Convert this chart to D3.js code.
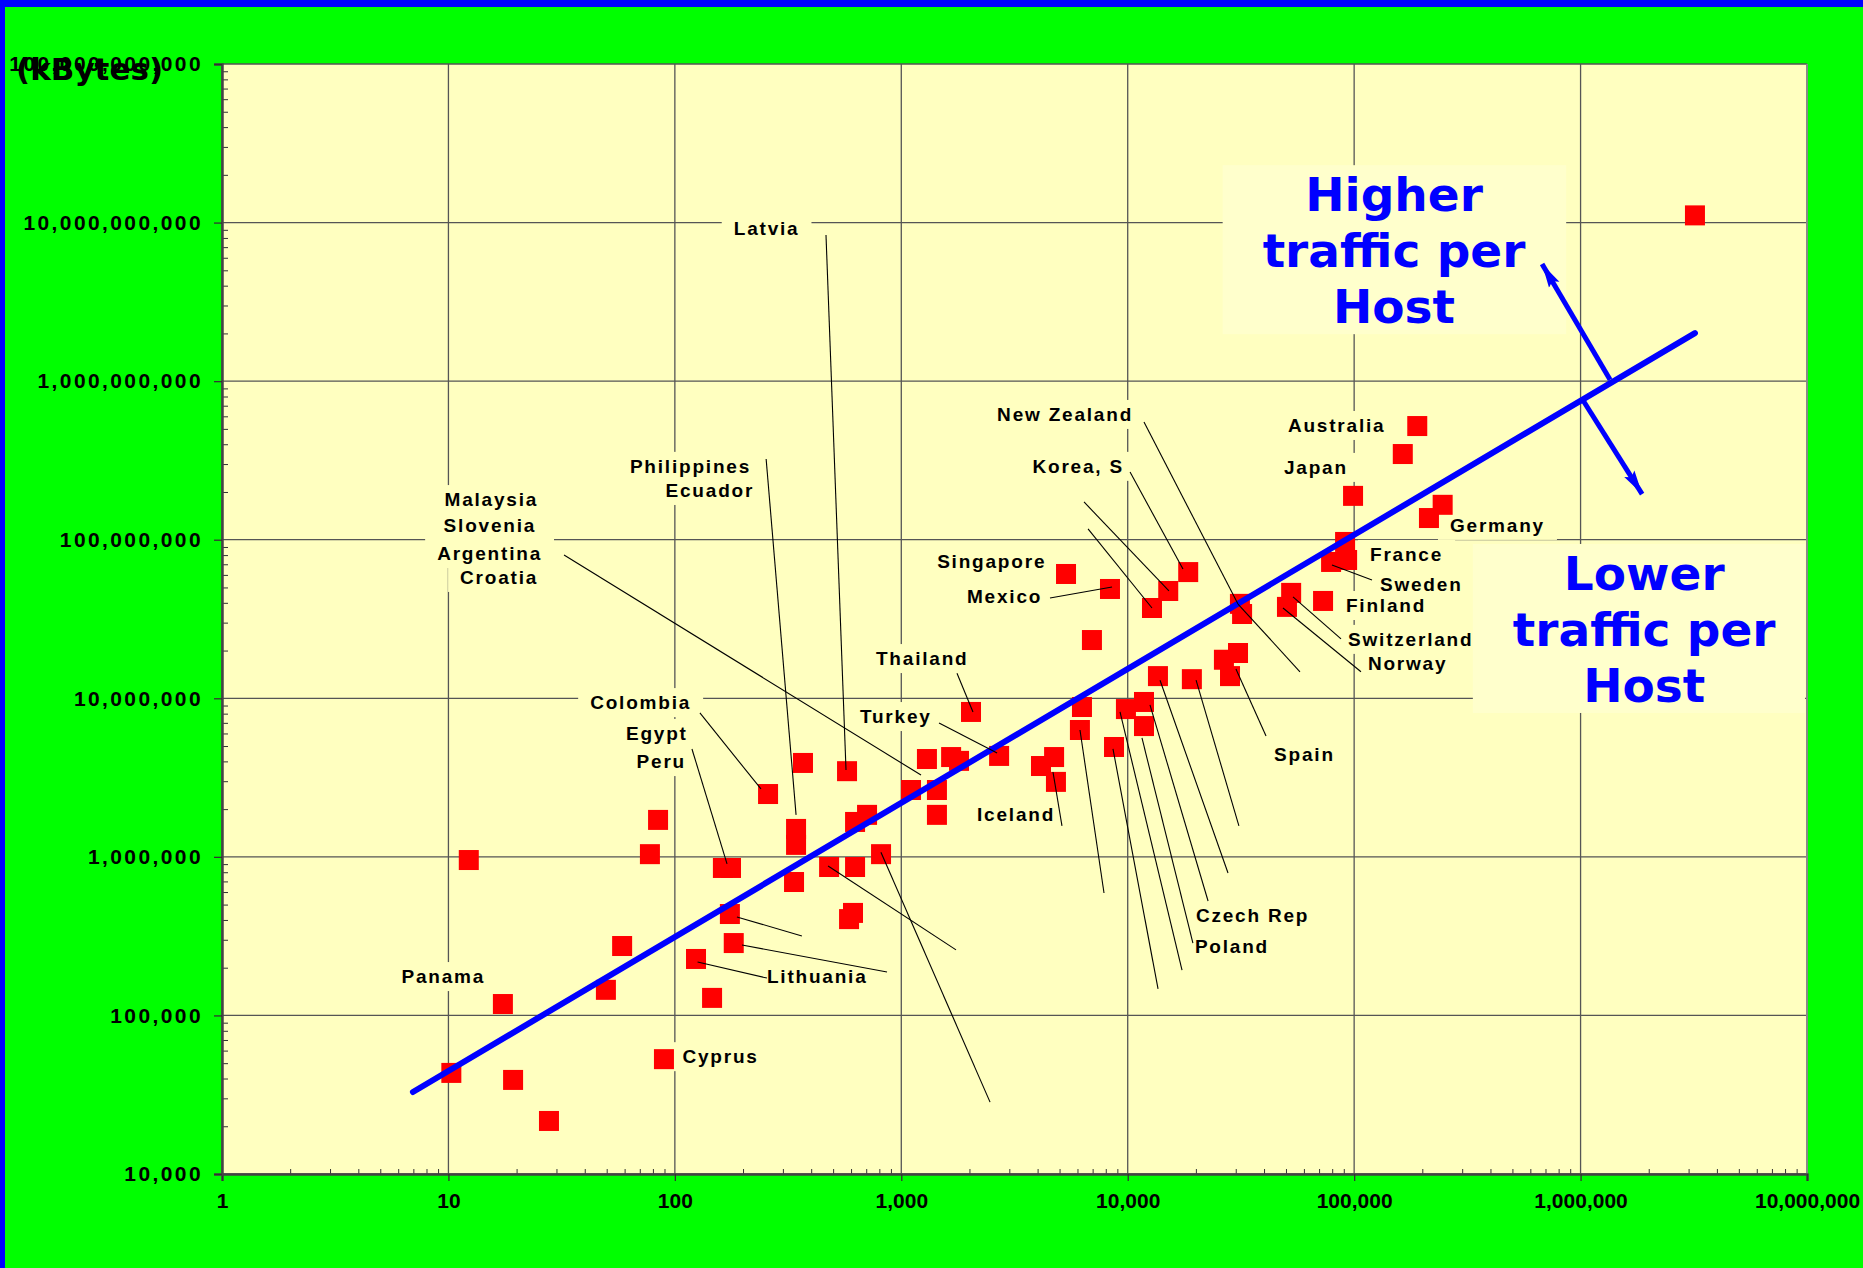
<!DOCTYPE html>
<html>
<head>
  <meta charset="utf-8">
  <title>Traffic per Host</title>
  <script src="https://d3js.org/d3.v7.min.js"></script>
  <style>
    body { margin: 0; background: #00ff00; }
    text { font-family: "Liberation Sans", Arial, sans-serif; font-weight: bold; }
  </style>
</head>
<body>
<script>
  // internet hosts per country (x) and traffic in kBytes (y)
  var hosts = [12.3, 17.4, 10.3, 19.3, 27.8, 49.6, 58.5, 77.6, 84.3, 89.5, 124, 146, 163, 177, 182, 175,
    258, 343, 343, 336, 368, 480, 576, 612, 588, 625, 706, 625, 814, 1104, 1298, 1437, 1437, 1660, 1799,
    2032, 2704, 4140, 4730, 4820, 5340, 6150, 6280, 6950, 8350, 8700, 9820, 11800, 11800, 12800, 15100,
    13600, 18500, 19200, 26600, 30700, 28300, 31300, 32000, 50500, 52700, 72900, 79100, 93100, 91200,
    98900, 164000, 190000, 214000, 246000, 3200000];
  var traffic = [955e3, 118e3, 43.4e3, 39.2e3, 21.6e3, 145e3, 274e3, 1.04e6, 1.71e6, 53e3, 227e3, 129e3,
    851e3, 851e3, 286e3, 436e3, 2.49e6, 1.50e6, 1.19e6, 694e3, 3.91e6, 863e3, 3.47e6, 443e3, 405e3, 1.66e6,
    1.84e6, 863e3, 1.04e6, 2.64e6, 4.14e6, 2.64e6, 1.84e6, 4.26e6, 4.03e6, 8.2e6, 4.33e6, 3.74e6, 4.26e6,
    2.97e6, 60.8e6, 6.31e6, 8.81e6, 23.3e6, 48.9e6, 4.93e6, 8.55e6, 9.48e6, 6.68e6, 37.1e6, 47.5e6, 13.8e6,
    62.5e6, 13.2e6, 17.5e6, 19.3e6, 13.8e6, 39.4e6, 34.0e6, 37.7e6, 46.2e6, 41.1e6, 72.4e6, 74.5e6, 96.8e6,
    189e6, 347e6, 521e6, 137e6, 166e6, 11.1e9];

  // trend line ends
  var fitX = [6.97, 3.2e6];
  var fitY = [3.29e4, 2.01e9];

  var xTicks = [1, 10, 100, 1e3, 1e4, 1e5, 1e6, 1e7];
  var yTicks = [1e4, 1e5, 1e6, 1e7, 1e8, 1e9, 1e10, 1e11];

  // country labels: text, hosts, kBytes (baseline), anchor
  var countryLabels = [
    ["Philippines", 217, 2.64e8, "end"], ["Ecuador", 224, 1.86e8, "end"],
    ["Malaysia", 24.9, 1.63e8, "end"], ["Slovenia", 24.4, 1.12e8, "end"],
    ["Argentina", 25.9, 7.45e7, "end"], ["Croatia", 24.9, 5.26e7, "end"],
    ["Colombia", 118, 8.55e6, "end"], ["Egypt", 114, 5.46e6, "end"], ["Peru", 112, 3.63e6, "end"],
    ["Latvia", 182, 8.35e9, "start"], ["Panama", 6.2, 1.6e5, "start"],
    ["Lithuania", 255, 1.6e5, "start"], ["Cyprus", 108, 5.0e4, "start"],
    ["Singapore", 1440, 6.64e7, "start"], ["Mexico", 1950, 3.99e7, "start"],
    ["Thailand", 773, 1.62e7, "start"], ["Turkey", 657, 6.98e6, "start"],
    ["Iceland", 2160, 1.68e6, "start"], ["New Zealand", 2650, 5.61e8, "start"],
    ["Korea, S", 9630, 2.64e8, "end"], ["Australia", 51000, 4.78e8, "start"],
    ["Japan", 49000, 2.60e8, "start"], ["Germany", 265000, 1.12e8, "start"],
    ["France", 117500, 7.35e7, "start"], ["Sweden", 130000, 4.75e7, "start"],
    ["Finland", 92000, 3.50e7, "start"], ["Switzerland", 94000, 2.14e7, "start"],
    ["Norway", 115000, 1.51e7, "start"], ["Spain", 44300, 4.03e6, "start"],
    ["Czech Rep", 20000, 3.88e5, "start"], ["Poland", 19800, 2.48e5, "start"]
  ];

  // leader lines: x1, y1, x2, y2
  var leaders = [
    [32.4, 8.01e7, 1222, 3.28e6], [253, 3.23e8, 343, 1.84e6], [465, 8.35e9, 570, 3.53e6],
    [129, 8.08e6, 240, 2.68e6], [119, 4.79e6, 170, 9.02e5], [255, 1.72e5, 126, 2.17e5],
    [865, 1.88e5, 198, 2.78e5], [364, 3.17e5, 188, 4.18e5], [475, 8.75e5, 1745, 2.59e5],
    [813, 1.07e6, 2466, 2.84e4], [4537, 4.29e7, 8527, 5.03e7], [1762, 1.44e7, 2073, 8.20e6],
    [1468, 6.98e6, 2649, 4.52e6], [5125, 1.57e6, 4677, 3.43e6], [6155, 6.31e6, 7858, 5.92e5],
    [8610, 4.79e6, 13610, 1.47e5], [9248, 8.20e6, 17370, 1.93e5], [11560, 5.62e6, 19410, 2.86e5],
    [12540, 9.08e6, 22640, 5.27e5], [13890, 1.30e7, 27730, 7.91e5], [20040, 1.30e7, 30980, 1.57e6],
    [30060, 1.53e7, 40820, 5.78e6], [11800, 5.52e8, 30690, 3.93e7], [30690, 3.93e7, 57650, 1.47e7],
    [10240, 2.67e8, 17540, 6.53e7], [6412, 1.73e8, 15210, 4.75e7], [6680, 1.17e8, 12800, 3.71e7],
    [119900, 5.57e7, 79800, 6.93e7], [87500, 2.37e7, 53700, 4.36e7], [107200, 1.47e7, 48500, 3.71e7]
  ];

  // big notes and their arrows
  var noteLines = [["Higher", "traffic per", "Host"], ["Lower", "traffic per", "Host"]];
  var noteX = [150000, 1.91e6];
  var noteY = [1.18e10, 4.82e7];
  var arrows = [[1.35e6, 1.02e9, 6.76e5, 5.48e9], [1.01e6, 7.83e8, 1.87e6, 1.94e8]];

  var width = 1863;
  var height = 1268;
  var plot = { left: 222, right: 1807, top: 64, bottom: 1174 };

  var svg = d3.select("body").append("svg").attr("width", width).attr("height", height);

  svg.append("rect").attr("width", width).attr("height", height).attr("fill", "#00ff00");
  svg.append("rect").attr("width", width).attr("height", 7).attr("fill", "#0000ff");
  svg.append("rect").attr("width", 5).attr("height", height).attr("fill", "#0000ff");

  var xScale = d3.scaleLog().domain([1, 1e7]).range([plot.left, plot.right]);
  var yScale = d3.scaleLog().domain([1e4, 1e11]).range([plot.bottom, plot.top]);

  svg.append("rect")
    .attr("x", plot.left).attr("y", plot.top)
    .attr("width", plot.right - plot.left).attr("height", plot.bottom - plot.top)
    .attr("fill", "#ffffc0");

  // grid
  var grid = svg.append("g").attr("stroke", "#555").attr("stroke-width", 1.3);
  grid.selectAll(".gx").data(xTicks).enter().append("line")
    .attr("x1", function(d) { return xScale(d); }).attr("x2", function(d) { return xScale(d); })
    .attr("y1", plot.top).attr("y2", plot.bottom);
  grid.selectAll(".gy").data(yTicks).enter().append("line")
    .attr("y1", function(d) { return yScale(d); }).attr("y2", function(d) { return yScale(d); })
    .attr("x1", plot.left).attr("x2", plot.right);

  var bgLayer = svg.append("g");

  // points
  svg.append("g").selectAll("rect").data(hosts).enter().append("rect")
    .attr("x", function(d) { return xScale(d) - 10; })
    .attr("y", function(d, i) { return yScale(traffic[i]) - 10; })
    .attr("width", 20).attr("height", 20)
    .attr("fill", "#ff0000");

  // trend line
  var line = d3.line()
    .x(function(d) { return xScale(d[0]); })
    .y(function(d) { return yScale(d[1]); });
  svg.append("path")
    .datum(fitX.map(function(d, i) { return [d, fitY[i]]; }))
    .attr("fill", "none").attr("stroke", "#0000ff").attr("stroke-width", 6)
    .attr("stroke-linecap", "round")
    .attr("d", line);

  // leader lines
  svg.append("g").selectAll("line").data(leaders).enter().append("line")
    .attr("x1", function(d) { return xScale(d[0]); }).attr("y1", function(d) { return yScale(d[1]); })
    .attr("x2", function(d) { return xScale(d[2]); }).attr("y2", function(d) { return yScale(d[3]); })
    .attr("stroke", "#000").attr("stroke-width", 1.1);

  // country labels with background boxes
  var labels = svg.append("g").selectAll("text").data(countryLabels).enter().append("text")
    .attr("x", function(d) { return xScale(d[1]); })
    .attr("y", function(d) { return yScale(d[2]); })
    .attr("text-anchor", function(d) { return d[3]; })
    .attr("font-size", 19)
    .attr("letter-spacing", 1.8)
    .attr("fill", "#000")
    .text(function(d) { return d[0]; });
  labels.each(function() {
    var b = this.getBBox();
    bgLayer.append("rect")
      .attr("x", b.x - 12).attr("y", b.y - 4)
      .attr("width", b.width + 24).attr("height", b.height + 8)
      .attr("fill", "#ffffc0");
  });

  // big notes
  noteLines.forEach(function(lines, k) {
    var t = svg.append("text")
      .attr("x", xScale(noteX[k])).attr("y", yScale(noteY[k]))
      .attr("text-anchor", "middle")
      .style("font-family", "'DejaVu Sans', Verdana, sans-serif")
      .attr("font-size", 47)
      .attr("fill", "#0000ff");
    lines.forEach(function(s, j) {
      t.append("tspan").attr("x", xScale(noteX[k])).attr("dy", j == 0 ? 0 : 56).text(s);
    });
    var b = t.node().getBBox();
    var x0 = b.x - 40, x1 = Math.min(b.x + b.width + 40, plot.right - 2);
    bgLayer.append("rect")
      .attr("x", x0).attr("y", b.y - 2)
      .attr("width", x1 - x0).attr("height", b.height + 2)
      .attr("fill", "#ffffcc");
  });

  // arrows
  svg.append("defs").append("marker")
    .attr("id", "head").attr("viewBox", "0 0 24 14")
    .attr("refX", 24).attr("refY", 7)
    .attr("markerWidth", 24).attr("markerHeight", 14)
    .attr("markerUnits", "userSpaceOnUse").attr("orient", "auto")
    .append("path").attr("d", "M0,1 L24,7 L0,13 L4,7 Z").attr("fill", "#0000ff");
  svg.append("g").selectAll("line").data(arrows).enter().append("line")
    .attr("x1", function(d) { return xScale(d[0]); }).attr("y1", function(d) { return yScale(d[1]); })
    .attr("x2", function(d) { return xScale(d[2]); }).attr("y2", function(d) { return yScale(d[3]); })
    .attr("stroke", "#0000ff").attr("stroke-width", 5)
    .attr("marker-end", "url(#head)");

  // axes
  var minor = [];
  for (var p = 0; p < 7; p++) for (var k = 2; k < 10; k++) minor.push(k * Math.pow(10, p));
  var minorY = minor.map(function(d) { return d * 1e4; });

  var fmt = d3.format(",");
  var axisx = d3.axisBottom(xScale).tickValues(xTicks).tickFormat(fmt).tickSize(7).tickPadding(12);
  var axisy = d3.axisLeft(yScale).tickValues(yTicks).tickFormat(fmt).tickSize(8).tickPadding(11);

  svg.append("g")
    .attr("transform", "translate(0," + plot.bottom + ")")
    .call(d3.axisBottom(xScale).tickValues(minor).tickFormat("").tickSize(-5).tickSizeOuter(0))
    .call(function(g) { g.select(".domain").remove(); g.selectAll("line").attr("stroke", "#333"); });
  svg.append("g")
    .attr("transform", "translate(" + plot.left + ",0)")
    .call(d3.axisLeft(yScale).tickValues(minorY).tickFormat("").tickSize(-6).tickSizeOuter(0))
    .call(function(g) { g.select(".domain").remove(); g.selectAll("line").attr("stroke", "#333"); });

  svg.append("line")
    .attr("x1", plot.right).attr("x2", plot.right).attr("y1", plot.top).attr("y2", plot.bottom)
    .attr("stroke", "#888").attr("stroke-width", 2);

  svg.append("g")
    .attr("transform", "translate(0," + plot.bottom + ")")
    .call(axisx)
    .call(function(g) {
      g.select(".domain").attr("stroke", "#444").attr("stroke-width", 2.5);
      g.selectAll("line").attr("stroke", "#333").attr("stroke-width", 1.3);
      g.selectAll("text").attr("fill", "#000").attr("font-size", 21)
        .style("font-family", "'Liberation Sans', Arial, sans-serif");
    });

  svg.append("g")
    .attr("transform", "translate(" + plot.left + ",0)")
    .call(axisy)
    .call(function(g) {
      g.select(".domain").attr("stroke", "#444").attr("stroke-width", 2.5);
      g.selectAll("line").attr("stroke", "#333").attr("stroke-width", 1.3);
      g.selectAll("text").attr("fill", "#000").attr("font-size", 21).attr("letter-spacing", 2.4)
        .style("font-family", "'Liberation Sans', Arial, sans-serif");
    });

  svg.append("text")
    .attr("x", 16).attr("y", 80)
    .style("font-family", "'DejaVu Sans', Verdana, sans-serif")
    .attr("font-size", 31)
    .attr("fill", "#000")
    .text("(kBytes)");
</script>
</body>
</html>
